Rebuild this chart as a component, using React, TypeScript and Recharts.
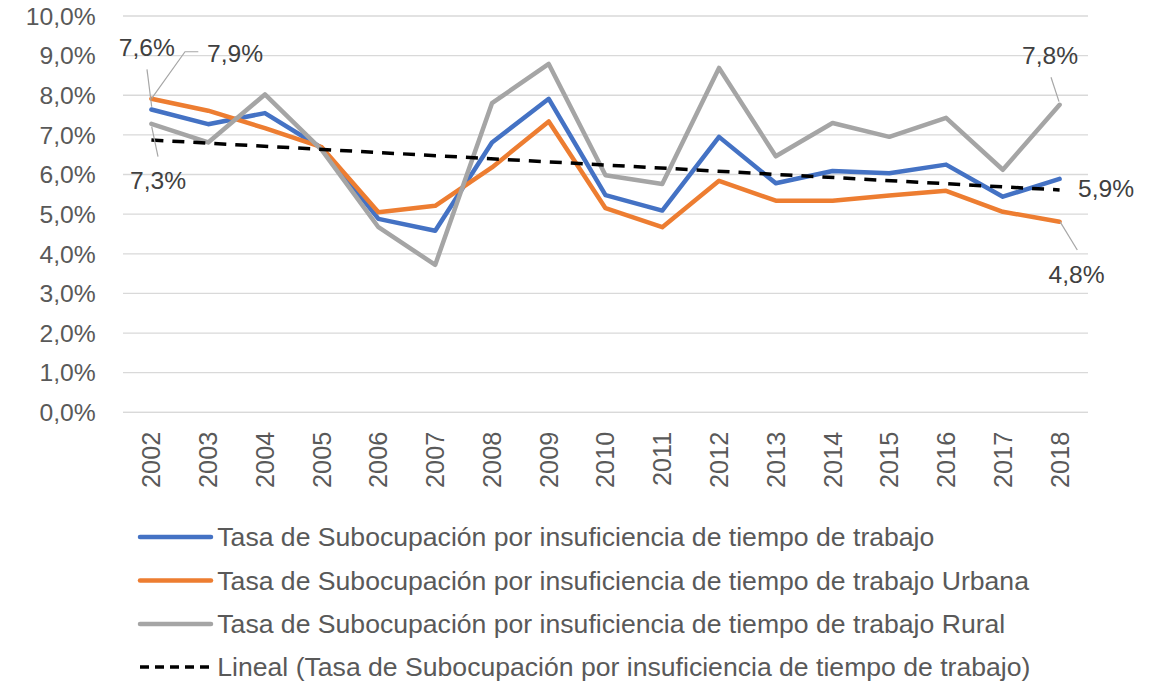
import React from 'react';
import { LineChart, Line, XAxis, YAxis, CartesianGrid, LabelList } from 'recharts';

const years = ['2002', '2003', '2004', '2005', '2006', '2007', '2008', '2009', '2010', '2011', '2012', '2013', '2014', '2015', '2016', '2017', '2018'];
const total = [7.64, 7.27, 7.55, 6.67, 4.88, 4.58, 6.81, 7.91, 5.48, 5.09, 6.95, 5.78, 6.09, 6.03, 6.25, 5.44, 5.89];
const urbana = [7.91, 7.61, 7.17, 6.69, 5.05, 5.21, 6.18, 7.34, 5.15, 4.67, 5.84, 5.34, 5.34, 5.47, 5.59, 5.06, 4.81];
const rural = [7.28, 6.81, 8.02, 6.62, 4.67, 3.72, 7.8, 8.79, 5.98, 5.76, 8.69, 6.46, 7.3, 6.95, 7.43, 6.12, 7.76];
const trend: (number | null)[] = [6.87, null, null, null, null, null, null, null, null, null, null, null, null, null, null, null, 5.61];
const yTicks = [0, 1, 2, 3, 4, 5, 6, 7, 8, 9, 10];

const seriesNames = [
  'Tasa de Subocupación por insuficiencia de tiempo de trabajo',
  'Tasa de Subocupación por insuficiencia de tiempo de trabajo Urbana',
  'Tasa de Subocupación por insuficiencia de tiempo de trabajo Rural',
  'Lineal (Tasa de Subocupación por insuficiencia de tiempo de trabajo)',
];

const BLUE = '#4472C4';
const ORANGE = '#ED7D31';
const GRAY = '#A5A5A5';
const TEXT = '#595959';
const FONT = '"Liberation Sans", Arial, sans-serif';

const data = years.map((year, i) => ({
  year,
  total: total[i],
  urbana: urbana[i],
  rural: rural[i],
  trend: trend[i],
}));

const fmt = (v: number) => v.toFixed(1).replace('.', ',') + '%';

type Spec = { index: number; dx: number; dy: number; anchor: 'start' | 'middle' | 'end'; leader?: number[][] };

const totalLabels: Spec[] = [
  { index: 0, dx: -4.5, dy: -61.6, anchor: 'middle', leader: [[-4.4, -40.2], [0.3, -2.8]] },
  { index: 16, dx: 18.5, dy: 10.1, anchor: 'start' },
];
const urbanaLabels: Spec[] = [
  { index: 0, dx: 83.6, dy: -45.3, anchor: 'middle', leader: [[46.9, -47.1], [33.6, -47.1], [0.3, -0.5]] },
  { index: 16, dx: 16.9, dy: 52.5, anchor: 'middle', leader: [[0.4, 0], [17.7, 28.3]] },
];
const ruralLabels: Spec[] = [
  { index: 0, dx: 6.6, dy: 56.5, anchor: 'middle', leader: [[6.6, 32.9], [0.3, 2.9]] },
  { index: 16, dx: -9.6, dy: -49, anchor: 'middle', leader: [[-8.6, -27.5], [-0.6, -3.1]] },
];

const makeLabel = (specs: Spec[]) => (props: any) => {
  const { x, y, value, index } = props;
  const s = specs.find((sp) => sp.index === index);
  if (!s || x == null || y == null || value == null) return null;
  return (
    <g>
      {s.leader && (
        <polyline
          points={s.leader.map(([a, b]) => `${x + a},${y + b}`).join(' ')}
          fill="none"
          stroke="#A6A6A6"
          strokeWidth={1.2}
        />
      )}
      <text
        x={x + s.dx}
        y={y + s.dy}
        textAnchor={s.anchor}
        dominantBaseline="central"
        fontFamily={FONT}
        fontSize={24.6}
        fill="#404040"
      >
        {fmt(Number(value))}
      </text>
    </g>
  );
};

const YearTick = (props: any) => {
  const { x, y, payload } = props;
  return (
    <text
      x={x}
      y={y}
      transform={`rotate(-90 ${x} ${y})`}
      textAnchor="end"
      dominantBaseline="central"
      fontFamily={FONT}
      fontSize={25.3}
      fill={TEXT}
    >
      {payload.value}
    </text>
  );
};

const legendRows = [
  { name: seriesNames[0], color: BLUE, dashed: false, y: 537 },
  { name: seriesNames[1], color: ORANGE, dashed: false, y: 580.5 },
  { name: seriesNames[2], color: GRAY, dashed: false, y: 624 },
  { name: seriesNames[3], color: '#000000', dashed: true, y: 667 },
];

export default function App() {
  return (
    <div style={{ position: 'absolute', left: 0, top: 0, width: 1158, height: 685, background: '#ffffff' }}>
      <LineChart width={1158} height={685} data={data} margin={{ top: 16, right: 70, bottom: 0, left: 0 }}>
        <CartesianGrid vertical={false} stroke="#D9D9D9" strokeWidth={1.3} />
        <XAxis
          dataKey="year"
          height={272.7}
          padding={{ left: 28.4, right: 28.4 }}
          axisLine={{ stroke: '#D9D9D9', strokeWidth: 1.3 }}
          tickLine={false}
          tickSize={0}
          tickMargin={19.4}
          interval={0}
          tick={<YearTick />}
        />
        <YAxis
          width={123}
          domain={[0, 10]}
          ticks={yTicks}
          axisLine={false}
          tickLine={false}
          tickSize={0}
          tickMargin={27.3}
          tickFormatter={fmt}
          tick={{ fill: TEXT, fontSize: 24.7, fontFamily: FONT }}
        />
        <Line
          type="linear"
          dataKey="total"
          name={seriesNames[0]}
          stroke={BLUE}
          strokeWidth={4.5}
          strokeLinejoin="round"
          strokeLinecap="round"
          dot={false}
          activeDot={false}
          isAnimationActive={false}
        >
          <LabelList dataKey="total" content={makeLabel(totalLabels)} />
        </Line>
        <Line
          type="linear"
          dataKey="urbana"
          name={seriesNames[1]}
          stroke={ORANGE}
          strokeWidth={4.5}
          strokeLinejoin="round"
          strokeLinecap="round"
          dot={false}
          activeDot={false}
          isAnimationActive={false}
        >
          <LabelList dataKey="urbana" content={makeLabel(urbanaLabels)} />
        </Line>
        <Line
          type="linear"
          dataKey="rural"
          name={seriesNames[2]}
          stroke={GRAY}
          strokeWidth={4.5}
          strokeLinejoin="round"
          strokeLinecap="round"
          dot={false}
          activeDot={false}
          isAnimationActive={false}
        >
          <LabelList dataKey="rural" content={makeLabel(ruralLabels)} />
        </Line>
        <Line
          type="linear"
          dataKey="trend"
          name={seriesNames[3]}
          stroke="#000000"
          strokeWidth={3.5}
          strokeDasharray="12 9"
          connectNulls
          dot={false}
          activeDot={false}
          isAnimationActive={false}
        />
      </LineChart>
      <svg
        width={1158}
        height={685}
        style={{ position: 'absolute', left: 0, top: 0, pointerEvents: 'none' }}
      >
        {legendRows.map((r) => (
          <g key={r.name}>
            <line
              x1={140}
              x2={211}
              y1={r.y}
              y2={r.y}
              stroke={r.color}
              strokeWidth={r.dashed ? 3.5 : 4.5}
              strokeLinecap={r.dashed ? 'butt' : 'round'}
              strokeDasharray={r.dashed ? '9 6' : undefined}
            />
            <text x={217.3} y={r.y} dominantBaseline="central" fontFamily={FONT} fontSize={26.6} fill={TEXT}>
              {r.name}
            </text>
          </g>
        ))}
      </svg>
    </div>
  );
}
